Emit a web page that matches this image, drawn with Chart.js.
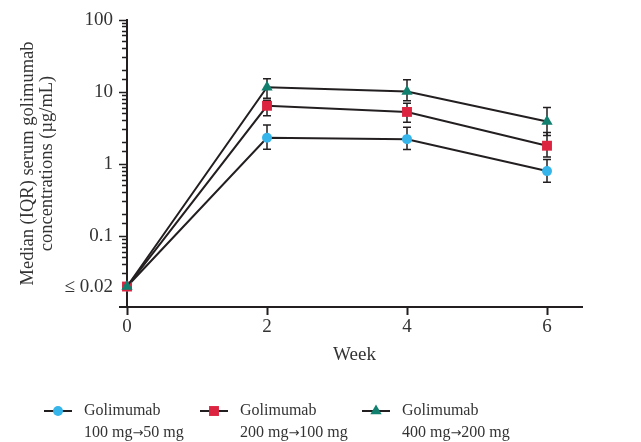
<!DOCTYPE html>
<html>
<head>
<meta charset="utf-8">
<script src="https://cdn.jsdelivr.net/npm/chart.js@4.4.1/dist/chart.umd.min.js"></script>
<style>
  html, body { margin: 0; padding: 0; background: #fff; }
  #wrap { width: 641px; height: 442px; }
</style>
</head>
<body>
<div id="wrap"><canvas id="pkChart" width="641" height="442"></canvas></div>
<script>
// Data (weeks, median and IQR in µg/mL)
const weeks = [0, 2, 4, 6];

const seriesLabels = [
  ['Golimumab', '100 mg→50 mg'],
  ['Golimumab', '200 mg→100 mg'],
  ['Golimumab', '400 mg→200 mg']
];

const median100 = [0.02, 2.32, 2.22, 0.8];
const lower100 = [null, 1.61, 1.6, 0.56];
const upper100 = [null, 3.48, 3.24, 1.16];

const median200 = [0.02, 6.45, 5.3, 1.8];
const lower200 = [null, 4.7, 3.8, 1.26];
const upper200 = [null, 7.7, 7.0, 2.75];

const median400 = [0.02, 11.7, 10.2, 3.9];
const lower400 = [null, 8.2, 7.6, 2.5];
const upper400 = [null, 15.3, 14.8, 6.1];

const yTickLabels = { 100: '100', 10: '10', 1: '1', 0.1: '0.1', 0.02: '≤ 0.02' };

const INK = '#231f20';
const TEXT = '#333333';
const FONT = "'Liberation Serif', 'DejaVu Serif', serif";

const colors = ['#36b5ea', '#dc2440', '#12806e'];
const shapes = ['circle', 'rect', 'triangle'];
const radii = [5, 7, 6.5];

function toPoints(vals) {
  return weeks.map((w, i) => ({ x: w, y: vals[i] }));
}

function labelFor(v) {
  for (const k in yTickLabels) {
    if (Math.abs(v - Number(k)) < Number(k) * 1e-6) return yTickLabels[k];
  }
  return null;
}

const medians = [median100, median200, median400];
const lowers = [lower100, lower200, lower400];
const uppers = [upper100, upper200, upper400];

const datasets = medians.map((m, i) => ({
  label: seriesLabels[i].join(' '),
  data: toPoints(m),
  borderColor: INK,
  borderWidth: 2,
  clip: false,
  pointStyle: shapes[i],
  pointRadius: radii[i],
  pointHoverRadius: radii[i],
  pointBackgroundColor: colors[i],
  pointBorderColor: colors[i],
  pointBorderWidth: 0,
  order: 2 - i,
  lower: lowers[i],
  upper: uppers[i]
}));

// IQR whiskers, drawn under the markers
const errorBars = {
  id: 'errorBars',
  beforeDatasetsDraw(chart) {
    const { ctx, scales: { x, y } } = chart;
    ctx.save();
    ctx.strokeStyle = INK;
    ctx.lineWidth = 1.5;
    chart.data.datasets.forEach(ds => {
      weeks.forEach((w, i) => {
        if (ds.lower[i] == null) return;
        const px = x.getPixelForValue(w);
        const yl = y.getPixelForValue(ds.lower[i]);
        const yu = y.getPixelForValue(ds.upper[i]);
        ctx.beginPath();
        ctx.moveTo(px, yl); ctx.lineTo(px, yu);
        ctx.moveTo(px - 4, yl); ctx.lineTo(px + 4, yl);
        ctx.moveTo(px - 4, yu); ctx.lineTo(px + 4, yu);
        ctx.stroke();
      });
    });
    ctx.restore();
  }
};

function drawShape(ctx, shape, r, x, y) {
  if (shape === 'circle') {
    ctx.arc(x, y, r, 0, Math.PI * 2);
  } else if (shape === 'rect') {
    const s = r / Math.SQRT2;
    ctx.rect(x - s, y - s, 2 * s, 2 * s);
  } else {
    ctx.moveTo(x, y - r);
    ctx.lineTo(x + r * Math.sin(Math.PI * 2 / 3), y - r * Math.cos(Math.PI * 2 / 3));
    ctx.lineTo(x + r * Math.sin(Math.PI * 4 / 3), y - r * Math.cos(Math.PI * 4 / 3));
    ctx.closePath();
  }
}

// dose text with a wider arrow glyph taken from DejaVu
function fillDose(ctx, text, x, y) {
  const parts = text.split('→');
  ctx.font = '16px ' + FONT;
  ctx.fillText(parts[0], x, y);
  x += ctx.measureText(parts[0]).width;
  ctx.font = "13px 'DejaVu Sans', sans-serif";
  ctx.fillText('→', x, y + 1);
  x += ctx.measureText('→').width;
  ctx.font = '16px ' + FONT;
  ctx.fillText(parts[1], x, y);
}

// small stub of the x axis left of the y axis, and the bottom legend
const extras = {
  id: 'extras',
  afterDraw(chart) {
    const { ctx, chartArea } = chart;
    ctx.save();
    ctx.strokeStyle = INK;
    ctx.lineWidth = 2;
    ctx.beginPath();
    ctx.moveTo(chartArea.left - 8, chartArea.bottom);
    ctx.lineTo(chartArea.left, chartArea.bottom);
    ctx.stroke();

    const starts = [44, 200, 362];
    const lineY = 411;
    ctx.textBaseline = 'middle';
    ctx.textAlign = 'left';
    starts.forEach((sx, i) => {
      ctx.strokeStyle = INK;
      ctx.lineWidth = 2;
      ctx.beginPath();
      ctx.moveTo(sx, lineY);
      ctx.lineTo(sx + 28, lineY);
      ctx.stroke();
      ctx.fillStyle = colors[i];
      ctx.beginPath();
      drawShape(ctx, shapes[i], radii[i], sx + 14, lineY);
      ctx.fill();
      ctx.fillStyle = TEXT;
      ctx.font = '16px ' + FONT;
      ctx.fillText(seriesLabels[i][0], sx + 40, lineY);
      fillDose(ctx, seriesLabels[i][1], sx + 40, lineY + 22);
    });
    ctx.restore();
  }
};

const ctx = document.getElementById('pkChart').getContext('2d');

const pkChart = new Chart(ctx, {
  type: 'line',
  data: { datasets: datasets },
  options: {
    responsive: false,
    animation: false,
    devicePixelRatio: 1,
    layout: { padding: { left: 0, top: 20, right: 59, bottom: 60 } },
    plugins: {
      legend: { display: false },
      tooltip: { enabled: false }
    },
    scales: {
      x: {
        type: 'linear',
        min: 0,
        max: 6.5,
        afterFit: s => { s.height = 75; },
        ticks: {
          stepSize: 2,
          includeBounds: false,
          color: TEXT,
          padding: 1,
          font: { family: FONT, size: 19 }
        },
        grid: {
          drawOnChartArea: false,
          tickLength: 8,
          tickWidth: 2,
          tickColor: INK
        },
        border: { color: INK, width: 2 },
        title: {
          display: true,
          text: 'Week',
          color: TEXT,
          font: { family: FONT, size: 19, lineHeight: 1.2 },
          padding: { top: 0, bottom: 16 }
        }
      },
      y: {
        type: 'logarithmic',
        min: 0.0104,
        max: 100,
        afterFit: s => { s.width = 127; },
        ticks: {
          autoSkip: false,
          color: TEXT,
          padding: 6,
          font: { family: FONT, size: 19 },
          callback: v => labelFor(v) || ''
        },
        grid: {
          drawOnChartArea: false,
          tickLength: 8,
          tickWidth: 1.5,
          tickColor: c => (c.tick && c.tick.value < 0.015) ? 'rgba(0,0,0,0)' : INK,
          tickBorderDash: c => {
            const v = c.tick ? c.tick.value : 1;
            const isMaj = [100, 10, 1, 0.1].some(k => Math.abs(v - k) < k * 1e-6);
            return isMaj ? [] : [0, 3, 100];
          }
        },
        border: { color: INK, width: 2 },
        title: {
          display: true,
          text: ['Median (IQR) serum golimumab', 'concentrations (µg/mL)'],
          color: TEXT,
          font: { family: FONT, size: 18.5, lineHeight: 1.0 },
          padding: { top: 19, bottom: 0 }
        }
      }
    }
  },
  plugins: [errorBars, extras]
});
</script>
</body>
</html>
